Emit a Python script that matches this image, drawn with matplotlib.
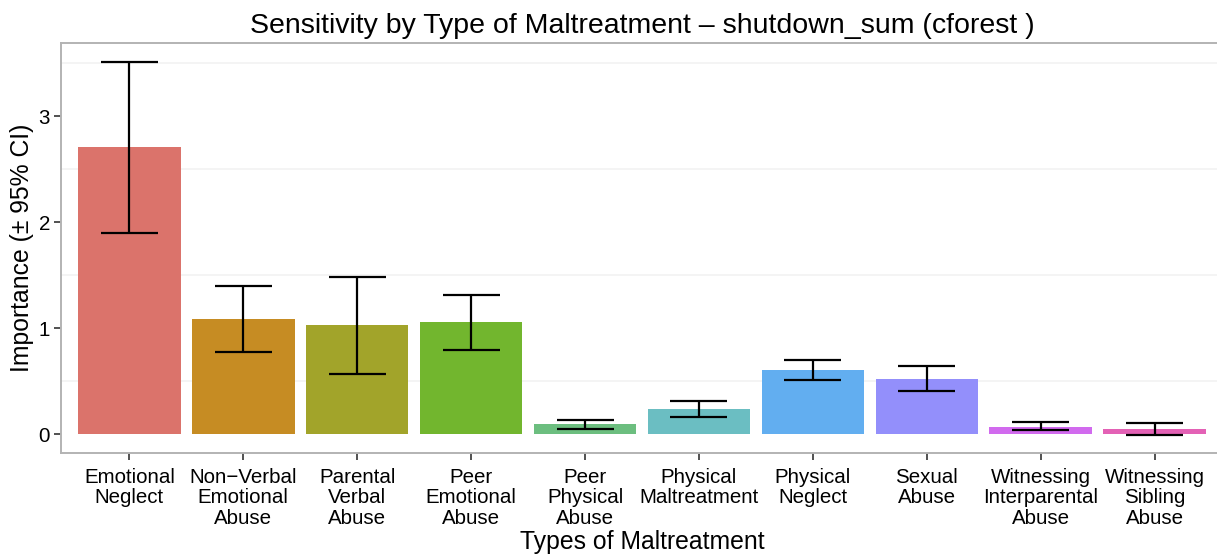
"""
Sensitivity by type of maltreatment - bar chart with 95% CI
"""
import matplotlib
matplotlib.use("Agg")
import matplotlib.pyplot as plt
import numpy as np

# Data
categories = [
    "Emotional\nNeglect",
    "Non\u2212Verbal\nEmotional\nAbuse",
    "Parental\nVerbal\nAbuse",
    "Peer\nEmotional\nAbuse",
    "Peer\nPhysical\nAbuse",
    "Physical\nMaltreatment",
    "Physical\nNeglect",
    "Sexual\nAbuse",
    "Witnessing\nInterparental\nAbuse",
    "Witnessing\nSibling\nAbuse",
]
importance = [2.71, 1.085, 1.03, 1.06, 0.094, 0.233, 0.60, 0.52, 0.069, 0.044]
ci_upper = [3.51, 1.40, 1.48, 1.31, 0.13, 0.31, 0.695, 0.64, 0.11, 0.107]
ci_lower = [1.90, 0.77, 0.57, 0.79, 0.05, 0.157, 0.512, 0.41, 0.038, -0.009]
bar_colors = [
    "#DB736B", "#C68C23", "#A2A42A", "#72B62E", "#6CBE7F",
    "#6BBEC2", "#62AEF0", "#938FFB", "#D16AEE", "#E361B5",
]
y_ticks = [0, 1, 2, 3]

plt.rcParams["font.family"] = ["Liberation Sans", "DejaVu Sans"]

W, H = 1217, 557
fig = plt.figure(figsize=(W / 100, H / 100), dpi=100)

# panel in pixels: left 61, right 1223 (cropped), top 43, bottom 453
ax = fig.add_axes([61 / W, (H - 453) / H, (1223 - 61) / W, (453 - 43) / H])

x = np.arange(len(categories))

# faint minor grid
for g in [0.5, 1.5, 2.5, 3.5]:
    ax.axhline(g, color="#F2F2F2", linewidth=1.2, zorder=0)

ax.bar(x, importance, width=0.9, color=bar_colors, edgecolor="none", zorder=2)

# error bars
ax.vlines(x, ci_lower, ci_upper, color="black", linewidth=1.6, zorder=3)
ax.hlines(ci_upper, x - 0.25, x + 0.25, color="black", linewidth=1.6, zorder=3)
ax.hlines(ci_lower, x - 0.25, x + 0.25, color="black", linewidth=1.6, zorder=3)

ax.set_xlim(-0.6, len(categories) - 0.4)
ax.set_ylim(-0.179, 3.689)
ax.set_xticks(x)
ax.set_xticklabels(categories, fontsize=14.8, linespacing=1.08)
ax.set_yticks(y_ticks)
ax.set_yticklabels([str(t) for t in y_ticks], fontsize=14.8)
ax.tick_params(axis="x", direction="out", length=5, width=1.2, color="#333333", pad=6)
ax.tick_params(axis="y", direction="out", length=5, width=1.2, color="#333333", pad=3)

for s in ax.spines.values():
    s.set_color("#B3B3B3")
    s.set_linewidth(1.4)

ax.set_title("Sensitivity by Type of Maltreatment \u2013 shutdown_sum (cforest )",
             fontsize=20.5, pad=7)
ax.set_xlabel("Types of Maltreatment", fontsize=17.8, labelpad=2)
ax.set_ylabel("Importance (\u00b1 95% CI)", fontsize=17.8, labelpad=3)

fig.savefig("out.png", dpi=100)
